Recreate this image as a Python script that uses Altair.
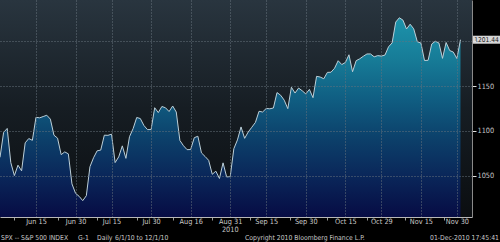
import altair as alt
import pandas as pd

# ---- data (S&P 500 daily closes, trading days 6/1/10 .. 12/1/10) ----
june = [1070.71, 1098.38, 1102.83, 1064.88, 1050.47, 1062.00, 1055.69, 1086.84, 1091.60, 1089.63,
        1115.23, 1114.61, 1116.04, 1117.51, 1113.20, 1095.31, 1092.04, 1073.69, 1076.76, 1074.57,
        1041.24, 1030.71]
july = [1027.37, 1022.58, 1028.06, 1060.27, 1070.25, 1077.96, 1078.75, 1095.34, 1095.17, 1096.48,
        1064.88, 1071.25, 1083.48, 1069.59, 1093.67, 1102.66, 1115.01, 1113.84, 1106.13, 1101.53,
        1101.60]
august = [1125.86, 1120.46, 1127.24, 1125.81, 1121.64, 1127.79, 1121.06, 1089.47, 1083.61, 1079.25,
          1079.38, 1092.54, 1094.16, 1075.63, 1071.69, 1067.36, 1051.87, 1055.33, 1047.22, 1064.59,
          1048.92, 1049.33]
september = [1080.29, 1090.10, 1104.51, 1091.84, 1098.87, 1104.18, 1109.55, 1121.90, 1121.10, 1125.07,
             1124.66, 1125.59, 1142.71, 1139.78, 1134.28, 1124.83, 1148.67, 1142.16, 1147.70, 1144.73,
             1141.20]
october = [1146.24, 1137.03, 1160.75, 1159.97, 1158.06, 1165.15, 1165.32, 1169.77, 1178.10, 1173.81,
           1176.19, 1184.71, 1165.90, 1178.17, 1180.26, 1183.08, 1185.62, 1185.64, 1182.45, 1183.78,
           1183.26]
november = [1184.38, 1193.57, 1197.96, 1221.06, 1225.85, 1223.25, 1213.40, 1218.71, 1213.54, 1199.21,
            1197.75, 1178.34, 1178.59, 1196.69, 1199.73, 1197.84, 1180.73, 1198.35, 1189.40, 1187.76,
            1180.55]
december = [1201.44]

tick_index = [10, 21, 31, 42, 53, 64, 74, 85, 96, 106, 117, 127]
tick_labels = ["Jun 15", "Jun 30", "Jul 15", "Jul 30", "Aug 16", "Aug 31",
               "Sep 15", "Sep 30", "Oct 15", "Oct 29", "Nov 15", "Nov 30"]
minor_index = [4, 16, 27, 38, 48, 59, 69.5, 80.5, 91, 102, 112.5, 123.5]
y_ticks = [1050, 1100, 1150, 1200]
last_label = "1201.44"
year_label = "2010"
footer_left = ["SPX -- S&P 500 INDEX", "G-1", "Daily", "6/1/10 to 12/1/10"]
footer_mid = "Copyright 2010 Bloomberg Finance L.P."
footer_right = "01-Dec-2010 17:45:41"

Y_MIN, Y_MAX = 1004.4, 1245.6
X_MAX = 131.2

values = june + july + august + september + october + november + december
df = pd.DataFrame({"i": list(range(len(values))), "v": values})
df["base"] = Y_MIN
last = df.tail(1).copy()
last["label"] = last_label

FONT = "'DejaVu Sans Condensed', 'Liberation Sans Narrow', 'Liberation Sans', sans-serif"
FS = 7.3
FS_FOOT = 6.8
TXT = "#c9c9c9"

all_x = tick_index + minor_index
major_js = "[" + ",".join(str(t) for t in tick_index) + "]"
labels_js = "[" + ",".join("'" + t + "'" for t in tick_labels) + "]"
label_expr = f"indexof({major_js}, datum.value) >= 0 ? {labels_js}[indexof({major_js}, datum.value)] : ''"
is_major = f"indexof({major_js}, datum.value) >= 0"

xscale = alt.Scale(domain=[0, X_MAX], nice=False, zero=False)
yscale = alt.Scale(domain=[Y_MIN, Y_MAX], nice=False, zero=False)

x_axis = alt.Axis(
    values=all_x, labelExpr=label_expr, title=None,
    grid=True, gridDash=[1, 2], gridColor="#66727c", gridWidth=1,
    gridOpacity={"condition": {"test": is_major, "value": 1}, "value": 0},
    ticks=True, tickSize=3, tickColor="#9a9a9a",
    tickOpacity={"condition": {"test": is_major, "value": 0}, "value": 1},
    domain=True, domainColor="#b8b8b8", labelColor=TXT, labelFont=FONT,
    labelFontSize=FS, labelPadding=-2.5, labelFlush=False, labelOverlap=False, zindex=1,
)
y_axis = alt.Axis(
    values=y_ticks, orient="right", title=None, format="d",
    labelExpr="datum.value == 1200 ? '' : datum.label",
    grid=True, gridDash=[1, 2], gridColor="#66727c", gridWidth=1,
    ticks=True, tickSize=4, tickColor="#e0e0e0",
    domain=True, domainColor="#8a8a8a", labelColor=TXT, labelFont=FONT,
    labelFontSize=FS, labelPadding=1, zindex=1,
)

X = alt.X("i:Q", scale=xscale, axis=x_axis)
Y = alt.Y("v:Q", scale=yscale, axis=y_axis)

bg = alt.Chart(alt.Data(values=[{}])).mark_rect(
    color=alt.LinearGradient(
        gradient="linear", x1=0, x2=0, y1=0, y2=1,
        stops=[alt.GradientStop(color="#29353f", offset=0),
               alt.GradientStop(color="#161d23", offset=0.5),
               alt.GradientStop(color="#0b0e11", offset=1)]),
).encode(x=alt.value(0), x2=alt.value(472), y=alt.value(0), y2=alt.value(217))

area = alt.Chart(df).mark_area(
    color=alt.LinearGradient(
        gradient="linear", x1=0, x2=0, y1=0, y2=1,
        stops=[alt.GradientStop(color="#1d93ab", offset=0),
               alt.GradientStop(color="#177d98", offset=0.2),
               alt.GradientStop(color="#105f83", offset=0.4),
               alt.GradientStop(color="#0c416b", offset=0.6),
               alt.GradientStop(color="#0a2659", offset=0.8),
               alt.GradientStop(color="#070c44", offset=1)]),
).encode(x=X, y=Y, y2="base:Q")

line = alt.Chart(df).mark_line(color="#bccfd8", strokeWidth=1).encode(x=X, y=Y)

box = alt.Chart(last).mark_rect(color="#d6d6d6", yOffset=-4, y2Offset=4).encode(
    x=alt.value(473), x2=alt.value(500), y=Y, y2="v:Q",
)
box_text = alt.Chart(last).mark_text(
    align="center", baseline="middle", font=FONT, fontSize=6.6, color="#1a1a1a",
).encode(x=alt.value(486.5), y=Y, text="label:N")

year = alt.Chart(alt.Data(values=[{}])).mark_text(
    align="center", baseline="middle", font=FONT, fontSize=FS, color=TXT,
).encode(x=alt.X(datum=tick_index[5], scale=xscale, axis=x_axis), y=alt.value(230),
         text=alt.value(year_label))

foot_x = [1, 78, 97, 115]
foot_layers = []
for s, fx in zip(footer_left, foot_x):
    foot_layers.append(alt.Chart(alt.Data(values=[{}])).mark_text(
        align="left", baseline="middle", font=FONT, fontSize=FS_FOOT, color=TXT,
    ).encode(x=alt.value(fx), y=alt.value(237.5), text=alt.value(s)))
foot_layers.append(alt.Chart(alt.Data(values=[{}])).mark_text(
    align="left", baseline="middle", font=FONT, fontSize=FS_FOOT, color=TXT,
).encode(x=alt.value(245), y=alt.value(237.5), text=alt.value(footer_mid)))
foot_layers.append(alt.Chart(alt.Data(values=[{}])).mark_text(
    align="right", baseline="middle", font=FONT, fontSize=FS_FOOT, color=TXT,
).encode(x=alt.value(499), y=alt.value(237.5), text=alt.value(footer_right)))

chart = alt.layer(bg, area, line, box, box_text, year, *foot_layers).properties(
    width=472, height=217,
    padding={"left": 0, "top": 0, "right": 28, "bottom": 25},
    autosize=alt.AutoSizeParams(type="none"),
    background="#000000",
).configure_view(stroke=None)

chart.save("out.html", embed_options={"renderer": "svg", "actions": False})
